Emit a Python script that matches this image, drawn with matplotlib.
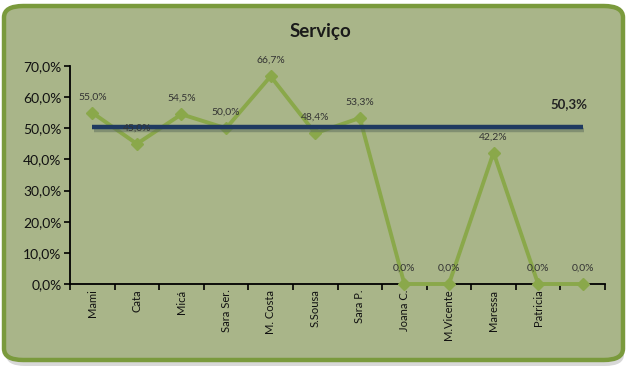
import matplotlib.pyplot as plt
from matplotlib.patches import FancyBboxPatch
import matplotlib.patheffects as pe

# --- data ---
names = ['Mami', 'Cata', 'Micá', 'Sara Ser.', 'M. Costa', 'S.Sousa', 'Sara P.',
         'Joana C.', 'M.Vicente', 'Maressa', 'Patricia', '']
values = [55.0, 45.0, 54.5, 50.0, 66.7, 48.4, 53.3, 0.0, 0.0, 42.2, 0.0, 0.0]
average = 50.3
yticks = [0, 10, 20, 30, 40, 50, 60, 70]

BG = '#a9b589'
BORDER = '#7a9a3c'
LINE = '#8aa84a'
NAVY = '#1f3a60'

plt.rcParams['font.family'] = ['Lato', 'DejaVu Sans']

fig = plt.figure(figsize=(6.42, 3.80), dpi=100)
fig.patch.set_facecolor('white')

# rounded panel with soft shadow
W, H = 642, 380
shadow = FancyBboxPatch((6 / W, 1 - 366 / H), 618 / W, 356 / H,
                        boxstyle='round,pad=0,rounding_size=0.03',
                        transform=fig.transFigure, facecolor='#d8d8d8',
                        edgecolor='none', zorder=0)
fig.patches.append(shadow)
panel = FancyBboxPatch((4 / W, 1 - 360 / H), 619 / W, 354 / H,
                       boxstyle='round,pad=0,rounding_size=0.03',
                       transform=fig.transFigure, facecolor=BG,
                       edgecolor=BORDER, linewidth=3.2, zorder=1)
fig.patches.append(panel)

ax = fig.add_axes([70 / W, 1 - 284 / H, (605 - 70) / W, (284 - 66) / H])
ax.set_facecolor('none')
ax.set_zorder(2)

x = list(range(len(values)))
ax.plot(x, values, color=LINE, lw=2.8, marker='D', ms=6,
        markerfacecolor=LINE, markeredgecolor=LINE, zorder=3, clip_on=False)
ax.plot([x[0], x[-1]], [average, average], color=NAVY, lw=3.2,
        solid_capstyle='butt', zorder=4,
        path_effects=[pe.SimpleLineShadow(offset=(1, -2), shadow_color='#5a6a5a', alpha=0.5),
                      pe.Normal()])

for xi, v in zip(x, values):
    ax.annotate(f'{v:.1f}%'.replace('.', ','), (xi, v), xytext=(0, 8),
                textcoords='offset points', ha='center', va='bottom',
                fontsize=7.5, color='#333333', zorder=6)

ax.text(x[-1] - 0.3, average + 5.5, f'{average:.1f}%'.replace('.', ','),
        ha='center', va='bottom', fontsize=9.5, fontweight='bold', color='#222222')

ax.set_xlim(-0.5, len(values) - 0.5)
ax.set_ylim(0, 70)
ax.set_yticks(yticks)
ax.set_yticklabels([f'{t:.1f}%'.replace('.', ',') for t in yticks], fontsize=10,
                   color='#111111')
ax.set_xticks([i - 0.5 for i in range(len(values) + 1)])
ax.set_xticklabels([])
ax.set_xticks(x, minor=True)
ax.set_xticklabels(names, minor=True, rotation=90, fontsize=8, color='#111111')
ax.tick_params(axis='x', which='minor', length=0, pad=4)
ax.tick_params(axis='x', which='major', length=4, width=1.2, direction='out')
ax.tick_params(axis='y', length=4, width=1.2, direction='out', pad=2)

for s in ['top', 'right']:
    ax.spines[s].set_visible(False)
for s in ['left', 'bottom']:
    ax.spines[s].set_linewidth(1.3)
ax.spines['bottom'].set_zorder(2)

fig.text(320 / W, 1 - 32 / H, 'Serviço', ha='center', va='center',
         fontsize=13.5, fontweight='bold', color='#1a1a1a')

fig.savefig('out.png', dpi=100, facecolor=fig.get_facecolor())
